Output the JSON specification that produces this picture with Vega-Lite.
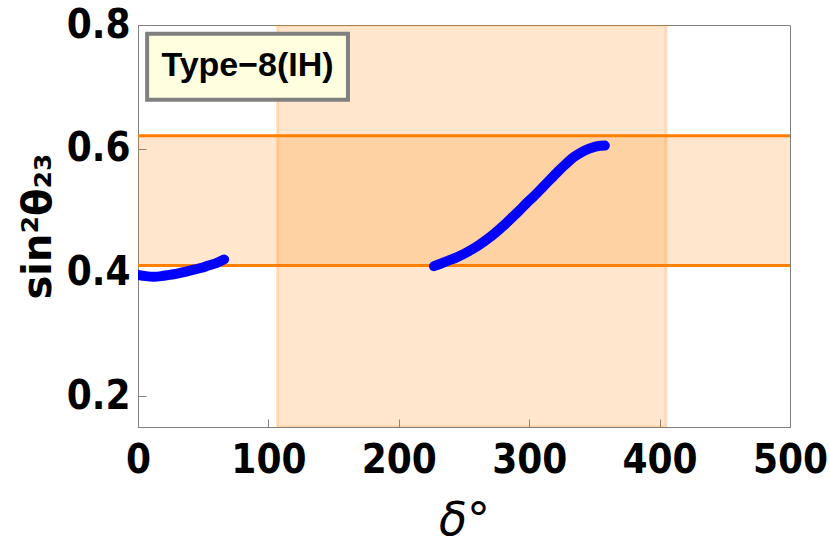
{
  "$schema": "https://vega.github.io/schema/vega-lite/v6.json",
  "width": 652,
  "height": 402,
  "autosize": {"type": "none"},
  "padding": {"left": 138, "top": 25, "right": 40, "bottom": 126},
  "background": "white",
  "config": {
    "view": {"stroke": "#808080", "strokeWidth": 1},
    "axis": {
      "grid": false,
      "domainColor": "#808080",
      "tickColor": "#808080",
      "labelFont": "DejaVu Sans Condensed",
      "labelFontWeight": "bold",
      "labelFontSize": 40,
      "labelColor": "black",
      "titleColor": "black"
    }
  },
  "datasets": {
    "vband": [{"x": 107, "x2": 405, "y": 0.15, "y2": 0.8}],
    "hband": [{"x": 0, "x2": 500, "y": 0.411, "y2": 0.621}],
    "hlines": [{"y": 0.411}, {"y": 0.621}],
    "curve": [
      {"seg": "a", "delta": 0, "s23": 0.396},
      {"seg": "a", "delta": 6, "s23": 0.394},
      {"seg": "a", "delta": 12, "s23": 0.393},
      {"seg": "a", "delta": 18, "s23": 0.394},
      {"seg": "a", "delta": 24, "s23": 0.396},
      {"seg": "a", "delta": 30, "s23": 0.398},
      {"seg": "a", "delta": 36, "s23": 0.401},
      {"seg": "a", "delta": 42, "s23": 0.404},
      {"seg": "a", "delta": 48, "s23": 0.407},
      {"seg": "a", "delta": 54, "s23": 0.411},
      {"seg": "a", "delta": 60, "s23": 0.415},
      {"seg": "a", "delta": 66, "s23": 0.421},
      {"seg": "b", "delta": 227, "s23": 0.410},
      {"seg": "b", "delta": 232, "s23": 0.414},
      {"seg": "b", "delta": 238, "s23": 0.419},
      {"seg": "b", "delta": 244, "s23": 0.424},
      {"seg": "b", "delta": 250, "s23": 0.430},
      {"seg": "b", "delta": 256, "s23": 0.437},
      {"seg": "b", "delta": 262, "s23": 0.445},
      {"seg": "b", "delta": 268, "s23": 0.454},
      {"seg": "b", "delta": 274, "s23": 0.464},
      {"seg": "b", "delta": 280, "s23": 0.475},
      {"seg": "b", "delta": 286, "s23": 0.487},
      {"seg": "b", "delta": 292, "s23": 0.499},
      {"seg": "b", "delta": 298, "s23": 0.512},
      {"seg": "b", "delta": 304, "s23": 0.524},
      {"seg": "b", "delta": 310, "s23": 0.537},
      {"seg": "b", "delta": 316, "s23": 0.550},
      {"seg": "b", "delta": 322, "s23": 0.563},
      {"seg": "b", "delta": 328, "s23": 0.575},
      {"seg": "b", "delta": 334, "s23": 0.586},
      {"seg": "b", "delta": 340, "s23": 0.594},
      {"seg": "b", "delta": 346, "s23": 0.600},
      {"seg": "b", "delta": 352, "s23": 0.604},
      {"seg": "b", "delta": 358, "s23": 0.605}
    ],
    "box": [{"x": 7, "x2": 161, "y": 0.786, "y2": 0.679, "tx": 84, "ty": 0.733, "label": "Type−8(IH)"}]
  },
  "layer": [
    {
      "data": {"name": "vband"},
      "mark": {"type": "rect", "fill": "#FF8000", "fillOpacity": 0.2, "stroke": "#FF8000", "strokeOpacity": 0.2, "strokeWidth": 3, "clip": true},
      "encoding": {
        "x": {
          "field": "x", "type": "quantitative",
          "scale": {"domain": [0, 500], "nice": false},
          "axis": {
            "values": [0, 100, 200, 300, 400, 500],
            "title": "δ°",
            "titleFont": "DejaVu Sans",
            "titleFontStyle": "italic",
            "titleFontWeight": "normal",
            "titleFontSize": 46,
            "titlePadding": 18,
            "tickSize": -8,
            "labelPadding": 21,
            "labelFlush": false
          }
        },
        "x2": {"field": "x2"},
        "y": {
          "field": "y", "type": "quantitative",
          "scale": {"domain": [0.15, 0.8], "nice": false, "zero": false},
          "axis": {
            "values": [0.2, 0.4, 0.6, 0.8],
            "format": ".1f",
            "title": "sin²θ₂₃",
            "titleFont": "DejaVu Sans",
            "titleFontWeight": "bold",
            "titleFontSize": 40,
            "titlePadding": 8,
            "tickSize": -8,
            "labelPadding": 16,
            "labelFlush": false
          }
        },
        "y2": {"field": "y2"}
      }
    },
    {
      "data": {"name": "hband"},
      "mark": {"type": "rect", "fill": "#FF8000", "fillOpacity": 0.2, "clip": true},
      "encoding": {
        "x": {"field": "x", "type": "quantitative"},
        "x2": {"field": "x2"},
        "y": {"field": "y", "type": "quantitative"},
        "y2": {"field": "y2"}
      }
    },
    {
      "data": {"name": "hlines"},
      "mark": {"type": "rule", "color": "#FF8000", "strokeWidth": 3},
      "encoding": {
        "y": {"field": "y", "type": "quantitative"}
      }
    },
    {
      "data": {"name": "curve"},
      "mark": {"type": "line", "color": "#0000FF", "strokeWidth": 10, "strokeCap": "round", "strokeJoin": "round", "interpolate": "monotone", "clip": true},
      "encoding": {
        "x": {"field": "delta", "type": "quantitative"},
        "y": {"field": "s23", "type": "quantitative"},
        "detail": {"field": "seg"}
      }
    },
    {
      "data": {"name": "box"},
      "mark": {"type": "rect", "fill": "#FFFFE0", "stroke": "#808080", "strokeWidth": 4},
      "encoding": {
        "x": {"field": "x", "type": "quantitative"},
        "x2": {"field": "x2"},
        "y": {"field": "y", "type": "quantitative"},
        "y2": {"field": "y2"}
      }
    },
    {
      "data": {"name": "box"},
      "mark": {"type": "text", "font": "Liberation Sans", "fontWeight": "bold", "fontSize": 34, "color": "black", "align": "center", "baseline": "middle"},
      "encoding": {
        "x": {"field": "tx", "type": "quantitative"},
        "y": {"field": "ty", "type": "quantitative"},
        "text": {"field": "label"}
      }
    }
  ]
}
